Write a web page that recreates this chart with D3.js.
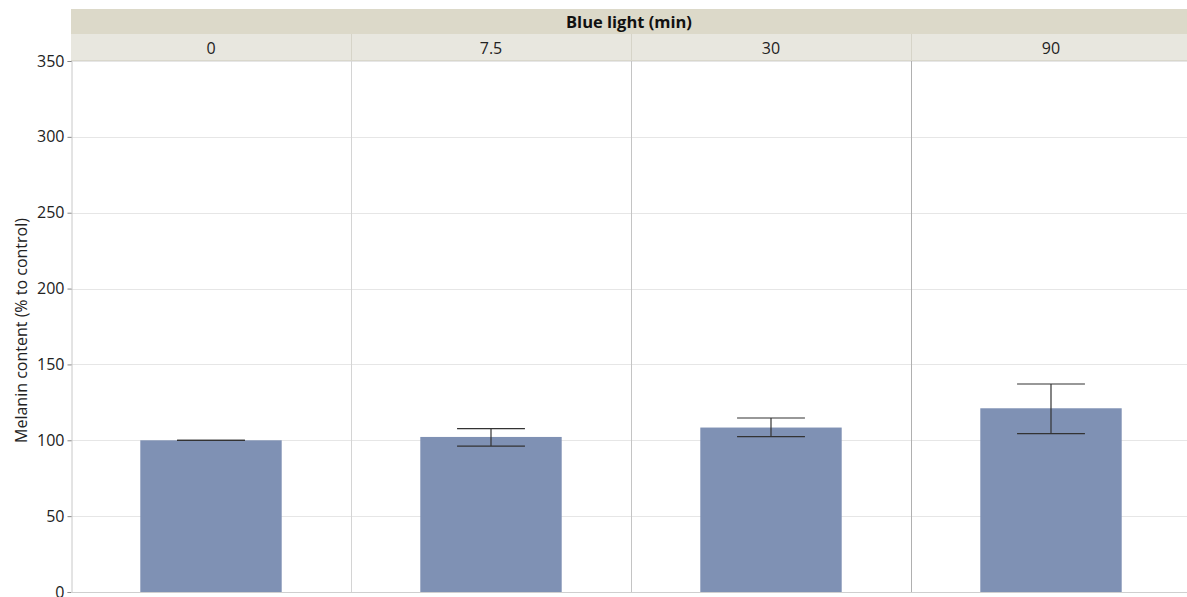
<!DOCTYPE html>
<html>
<head>
<meta charset="utf-8">
<script src="https://cdn.jsdelivr.net/npm/d3@7"></script>
<style>
  html, body { margin: 0; padding: 0; background: #fff; }
  svg text { font-family: "Open Sans", "Noto Sans", sans-serif; }
</style>
</head>
<body>
<svg id="chart" width="1187" height="597"></svg>
<script>
// Blue light exposure time (min) and melanin content (% to control)
const groups = ["0", "7.5", "30", "90"];
const means = [100, 102.2, 108.4, 121.1];
const errLow = [100, 96.2, 102.4, 104.4];
const errHigh = [100, 107.7, 114.7, 137.1];
const yTicks = [0, 50, 100, 150, 200, 250, 300, 350];

const svg = d3.select("#chart");
const W = 1187;
const plotLeft = 71, plotTop = 61, plotBottom = 592;
const panelW = 280;
const headTop = 9, headMid = 34;

const x = d3.scaleBand().domain(groups).range([plotLeft, plotLeft + panelW * groups.length]);
const y = d3.scaleLinear().domain([0, 350]).range([plotBottom, plotTop]);

// horizontal grid
svg.append("g").selectAll("line").data(yTicks.slice(1)).join("line")
  .attr("x1", plotLeft).attr("x2", W)
  .attr("y1", d => Math.round(y(d)) + 0.5).attr("y2", d => Math.round(y(d)) + 0.5)
  .attr("stroke", "#e6e6e6").attr("stroke-width", 1);

// panel dividers
svg.append("g").selectAll("line").data(groups.slice(1)).join("line")
  .attr("x1", d => Math.round(x(d)) + 0.5).attr("x2", d => Math.round(x(d)) + 0.5)
  .attr("y1", plotTop).attr("y2", plotBottom)
  .attr("stroke", (d, i) => ["#d4d4d4", "#c4c4c4", "#b0b0b0"][i]);

// bars
const bw = x.bandwidth() * 0.505;
svg.append("g").selectAll("rect").data(groups).join("rect")
  .attr("x", (d) => x(d) + (x.bandwidth() - bw) / 2)
  .attr("width", bw)
  .attr("y", (d, i) => y(means[i]))
  .attr("height", (d, i) => y(0) - y(means[i]))
  .attr("fill", "#7f91b4");

// error bars
const capW = bw * 0.48;
const eb = svg.append("g").attr("stroke", "#333").attr("stroke-width", 1.2);
groups.forEach((g, i) => {
  const cx = x(g) + x.bandwidth() / 2;
  eb.append("line").attr("x1", cx).attr("x2", cx).attr("y1", y(errHigh[i])).attr("y2", y(errLow[i]));
  [errHigh[i], errLow[i]].forEach(v => {
    eb.append("line").attr("x1", cx - capW / 2).attr("x2", cx + capW / 2)
      .attr("y1", y(v)).attr("y2", y(v));
  });
});

// y axis
const yAxis = d3.axisLeft(y).tickValues(yTicks).tickSize(4).tickPadding(3);
const ya = svg.append("g").attr("transform", `translate(${plotLeft + 0.5},0)`).call(yAxis);
ya.select(".domain").attr("stroke", "#c8c8c8");
ya.selectAll(".tick line").attr("stroke", "#888");
ya.selectAll(".tick text").attr("font-size", 16).attr("fill", "#222");

// bottom axis line
svg.append("line").attr("x1", plotLeft).attr("x2", W)
  .attr("y1", plotBottom + 0.5).attr("y2", plotBottom + 0.5).attr("stroke", "#cfcfcf");

// y title
svg.append("text")
  .attr("transform", `translate(27,${(plotTop + plotBottom) / 2 + 4}) rotate(-90)`)
  .attr("text-anchor", "middle").attr("font-size", 16).attr("fill", "#222")
  .text("Melanin content (% to control)");

// header rows
svg.append("rect").attr("x", plotLeft).attr("y", headTop).attr("width", W - plotLeft).attr("height", headMid - headTop)
  .attr("fill", "#dcd9c9");
svg.append("text").attr("x", (plotLeft + plotLeft + panelW * 4) / 2 - 2).attr("y", headMid - 6)
  .attr("text-anchor", "middle").attr("font-size", 16.5).attr("font-weight", "bold").attr("fill", "#111")
  .text("Blue light (min)");

const hg = svg.append("g");
hg.selectAll("rect").data(groups).join("rect")
  .attr("x", d => x(d)).attr("y", headMid).attr("width", panelW).attr("height", plotTop - headMid - 1)
  .attr("fill", "#e8e7df");
hg.selectAll("line.sep").data(groups.slice(1)).join("line").attr("class", "sep")
  .attr("x1", d => Math.round(x(d)) + 0.5).attr("x2", d => Math.round(x(d)) + 0.5)
  .attr("y1", headMid).attr("y2", plotTop - 1).attr("stroke", "#d6d4c8");
svg.append("line").attr("x1", plotLeft).attr("x2", W).attr("y1", plotTop - 0.5).attr("y2", plotTop - 0.5)
  .attr("stroke", "#d9d7cc");
hg.selectAll("text").data(groups).join("text")
  .attr("x", d => x(d) + x.bandwidth() / 2).attr("y", plotTop - 7)
  .attr("text-anchor", "middle").attr("font-size", 16).attr("fill", "#222")
  .text(d => d);
</script>
</body>
</html>
